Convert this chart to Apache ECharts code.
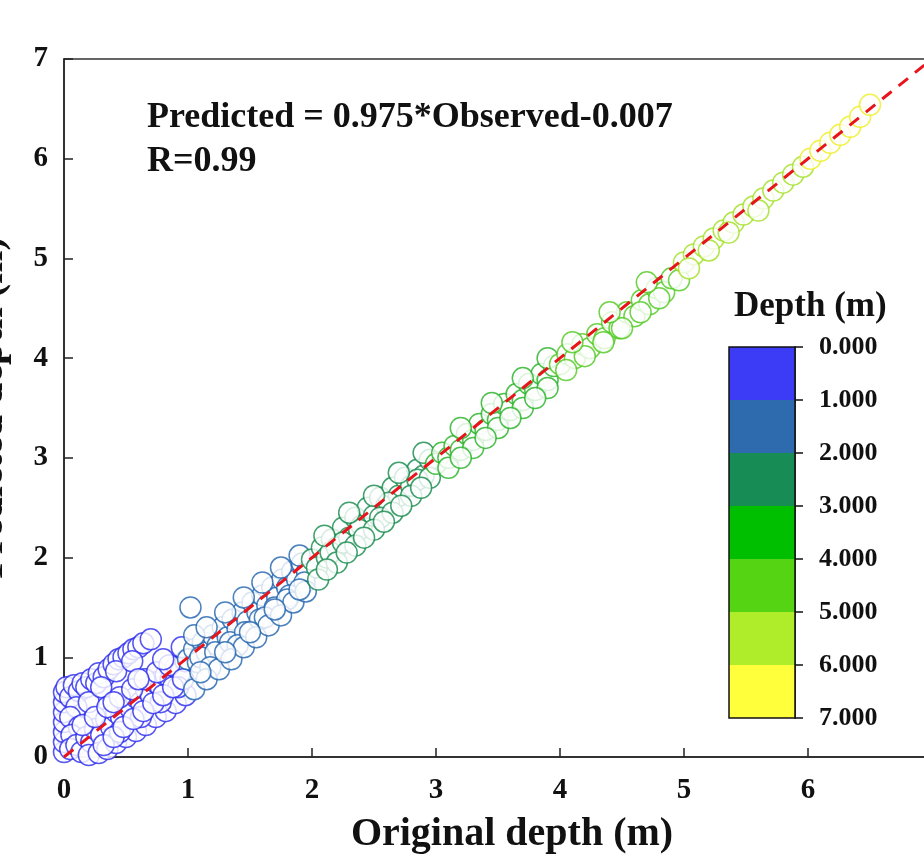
<!DOCTYPE html>
<html>
<head>
<meta charset="utf-8">
<script src="https://cdn.jsdelivr.net/npm/echarts@6/dist/echarts.min.js"></script>
<style>
  html, body { margin: 0; padding: 0; background: #fff; }
  #chart { width: 924px; height: 864px; }
</style>
</head>
<body>
<div id="chart"></div>
<script>
// observed (original) depth vs predicted depth
const points = [
  // 0 - 1 m
  [0.00, 0.05], [0.00, 0.15], [0.00, 0.25], [0.00, 0.35], [0.00, 0.45], [0.00, 0.55], [0.00, 0.65], [0.02, 0.70],
  [0.05, 0.60], [0.08, 0.72], [0.12, 0.66], [0.15, 0.74], [0.18, 0.70], [0.22, 0.78], [0.26, 0.74], [0.28, 0.84],
  [0.32, 0.80], [0.36, 0.88], [0.40, 0.93], [0.44, 0.98], [0.48, 1.00], [0.52, 1.04], [0.56, 1.08], [0.60, 1.10],
  [0.64, 1.14], [0.70, 1.18], [0.10, 0.50], [0.20, 0.55], [0.05, 0.40], [0.12, 0.30], [0.06, 0.22],
  [0.30, 0.70], [0.42, 0.86], [0.55, 0.96],
  [0.05, 0.08], [0.10, 0.12], [0.14, 0.05], [0.18, 0.20], [0.22, 0.15], [0.25, 0.28], [0.30, 0.22], [0.34, 0.38],
  [0.38, 0.30], [0.42, 0.45], [0.46, 0.40], [0.50, 0.55], [0.54, 0.48], [0.58, 0.60], [0.62, 0.55], [0.66, 0.68],
  [0.70, 0.62], [0.74, 0.75], [0.78, 0.70], [0.82, 0.82], [0.86, 0.78], [0.90, 0.90], [0.94, 0.85], [0.98, 0.96],
  [0.15, 0.32], [0.25, 0.40], [0.35, 0.50], [0.45, 0.60], [0.55, 0.68], [0.65, 0.78], [0.75, 0.85], [0.85, 0.92],
  [0.20, 0.02], [0.28, 0.04], [0.35, 0.08], [0.42, 0.14], [0.50, 0.20], [0.58, 0.26], [0.66, 0.32], [0.74, 0.40],
  [0.82, 0.46], [0.90, 0.54], [0.98, 0.62], [0.45, 0.25], [0.62, 0.40], [0.78, 0.55], [0.92, 0.70],
  [0.32, 0.12], [0.40, 0.20], [0.48, 0.30], [0.56, 0.38], [0.64, 0.46], [0.72, 0.54], [0.80, 0.62], [0.88, 0.70],
  [0.96, 0.78],
  [0.40, 0.55], [0.60, 0.78], [0.80, 0.98], [0.95, 1.10],
  // 1 - 2 m
  [1.02, 1.50],
  [1.00, 0.98], [1.05, 1.08], [1.08, 0.95], [1.12, 1.15], [1.15, 1.05], [1.20, 1.22], [1.24, 1.12], [1.28, 1.30],
  [1.32, 1.20], [1.36, 1.38], [1.40, 1.28], [1.44, 1.45], [1.48, 1.36], [1.52, 1.55], [1.56, 1.45], [1.60, 1.62],
  [1.64, 1.52], [1.68, 1.70], [1.72, 1.60], [1.76, 1.78], [1.80, 1.70], [1.84, 1.86], [1.88, 1.78], [1.92, 1.94],
  [1.96, 1.86],
  [1.10, 1.00], [1.22, 1.05], [1.34, 1.15], [1.46, 1.25], [1.58, 1.38], [1.70, 1.50], [1.82, 1.62], [1.94, 1.75],
  [1.18, 0.90], [1.40, 1.12], [1.62, 1.40], [1.80, 1.58],
  [1.05, 0.68], [1.15, 0.78], [1.25, 0.88], [1.35, 0.98], [1.45, 1.10], [1.55, 1.20], [1.65, 1.32], [1.75, 1.42],
  [1.85, 1.55], [1.95, 1.66], [1.10, 0.85], [1.30, 1.05], [1.50, 1.25], [1.70, 1.48], [1.90, 1.68],
  [1.05, 1.22], [1.15, 1.30], [1.30, 1.45], [1.45, 1.60], [1.60, 1.75], [1.75, 1.90], [1.90, 2.02],
  // 2 - 3 m
  [2.00, 1.98], [2.04, 1.90], [2.08, 2.10], [2.12, 2.00], [2.16, 2.18], [2.20, 2.10], [2.25, 2.30], [2.30, 2.20],
  [2.35, 2.40], [2.40, 2.32], [2.45, 2.50], [2.50, 2.42], [2.55, 2.60], [2.60, 2.52], [2.65, 2.70], [2.70, 2.62],
  [2.75, 2.80], [2.80, 2.72], [2.85, 2.88], [2.90, 2.82], [2.95, 2.98],
  [2.15, 2.05], [2.38, 2.28], [2.62, 2.55], [2.85, 2.78], [2.25, 2.15], [2.55, 2.40],
  [2.05, 1.78], [2.20, 1.95], [2.35, 2.12], [2.50, 2.28], [2.65, 2.45], [2.80, 2.62], [2.95, 2.80],
  [2.12, 1.88], [2.28, 2.05], [2.42, 2.20], [2.58, 2.36], [2.72, 2.52], [2.88, 2.70],
  [2.10, 2.22], [2.30, 2.45], [2.50, 2.62], [2.70, 2.85], [2.90, 3.05],
  // 3 - 4 m
  [3.00, 2.94], [3.05, 3.05], [3.10, 3.00], [3.15, 3.12], [3.20, 3.08], [3.25, 3.24], [3.30, 3.18], [3.35, 3.34],
  [3.40, 3.28], [3.45, 3.44], [3.50, 3.38], [3.55, 3.54], [3.60, 3.48], [3.65, 3.64], [3.70, 3.58], [3.75, 3.74],
  [3.80, 3.68], [3.85, 3.84], [3.90, 3.78], [3.95, 3.92],
  [3.10, 2.90], [3.30, 3.10], [3.50, 3.30], [3.70, 3.50], [3.90, 3.70],
  [3.20, 3.00], [3.40, 3.20], [3.60, 3.40], [3.80, 3.60],
  [3.20, 3.30], [3.45, 3.55], [3.70, 3.80], [3.90, 4.00],
  // 4 - 5 m
  [4.00, 3.94], [4.06, 4.04], [4.12, 4.00], [4.18, 4.14], [4.24, 4.10], [4.30, 4.24], [4.36, 4.20], [4.42, 4.36],
  [4.48, 4.30], [4.54, 4.46], [4.60, 4.42], [4.66, 4.58], [4.72, 4.54], [4.78, 4.70], [4.84, 4.66], [4.90, 4.80],
  [4.96, 4.78],
  [4.20, 4.02], [4.50, 4.30], [4.80, 4.60], [4.05, 3.88], [4.35, 4.16], [4.65, 4.46],
  [4.10, 4.16], [4.40, 4.46], [4.70, 4.76],
  // 5 - 6 m
  [5.00, 4.96], [5.08, 5.04], [5.16, 5.12], [5.24, 5.20], [5.32, 5.28], [5.40, 5.36], [5.48, 5.44], [5.56, 5.52],
  [5.64, 5.60], [5.72, 5.68], [5.80, 5.76], [5.88, 5.84], [5.96, 5.92],
  [5.20, 5.08], [5.60, 5.48], [5.04, 4.90], [5.36, 5.26],
  // 6 - 7 m
  [6.02, 6.00], [6.10, 6.08], [6.18, 6.16], [6.26, 6.24], [6.34, 6.32], [6.42, 6.42], [6.50, 6.54]
]

const fitLine = [[0, 0], [7, 7]]
const axisTicks = [0, 1, 2, 3, 4, 5, 6, 7]

// colour bar classes (depth, m)
const depthBreaks = [0, 1, 2, 3, 4, 5, 6, 7]
const depthColors = ['#3c3cf6', '#2d6aae', '#178c55', '#00bf00', '#55d414', '#afec2a', '#ffff3c']
const pointColors = ['#2a2aee', '#1e62ac', '#128848', '#22b022', '#4cc81c', '#a0e020', '#eeee20']

const serif = '"Liberation Serif", "Times New Roman", serif'

const chart = echarts.init(document.getElementById('chart'))

// one scatter series per depth class so each gets its own outline colour
const groups = depthColors.map(() => [])
points.forEach(p => {
    let k = depthBreaks.findIndex((b, i) => i < depthBreaks.length - 1 && p[0] >= b && p[0] < depthBreaks[i + 1])
    if (k < 0) k = groups.length - 1
    groups[k].push(p)
})

const scatterSeries = groups.map((g, i) => ({
    type: 'scatter',
    symbol: 'circle',
    symbolSize: 21,
    silent: true,
    itemStyle: { color: '#fff', borderColor: pointColors[i], borderWidth: 1.5 },
    data: g,
    z: 2,
}))

const barSeries = depthColors.map((c, i) => ({
    type: 'bar',
    xAxisIndex: 1,
    yAxisIndex: 1,
    stack: 'cb',
    barWidth: '100%',
    silent: true,
    itemStyle: { color: c },
    data: [depthBreaks[i + 1] - depthBreaks[i]],
}))

chart.setOption({
    animation: false,
    backgroundColor: '#fff',
    textStyle: { fontFamily: serif },
    grid: [
        {
            left: 64,
            top: 59,
            right: -8,
            bottom: 107,
            containLabel: false,
            outerBoundsMode: 'none',
            show: true,
            borderColor: '#333',
            borderWidth: 1.5,
        },
        {
            left: 729,
            top: 347,
            width: 66,
            height: 371,
            containLabel: false,
            outerBoundsMode: 'none',
            show: true,
            borderColor: '#111',
            borderWidth: 1.5,
            z: 10,
        },
    ],
    xAxis: [
        {
            type: 'value',
            min: axisTicks[0],
            max: axisTicks[axisTicks.length - 1],
            interval: 1,
            splitLine: { show: false },
            axisLine: { lineStyle: { color: '#222', width: 1.5 } },
            axisTick: { inside: true, length: 9, lineStyle: { color: '#222', width: 1.5 } },
            axisLabel: { fontSize: 29, fontWeight: 'bold', color: '#111', margin: 19, fontFamily: serif },
            name: 'Original depth (m)',
            nameLocation: 'middle',
            nameGap: 58,
            nameTextStyle: { fontSize: 40, fontWeight: 'bold', color: '#111', fontFamily: serif, padding: [0, 0, 0, 28] },
        },
        {
            type: 'category',
            gridIndex: 1,
            data: ['c'],
            show: false,
        },
    ],
    yAxis: [
        {
            type: 'value',
            min: axisTicks[0],
            max: axisTicks[axisTicks.length - 1],
            interval: 1,
            splitLine: { show: false },
            axisLine: { lineStyle: { color: '#222', width: 1.5 } },
            axisTick: { inside: true, length: 9, lineStyle: { color: '#222', width: 1.5 } },
            axisLabel: { fontSize: 29, fontWeight: 'bold', color: '#111', margin: 16, fontFamily: serif },
            name: 'Predicted depth (m)',
            nameLocation: 'middle',
            nameGap: 52,
            nameTextStyle: { fontSize: 40, fontWeight: 'bold', color: '#111', fontFamily: serif },
        },
        {
            type: 'value',
            gridIndex: 1,
            position: 'right',
            inverse: true,
            min: depthBreaks[0],
            max: depthBreaks[depthBreaks.length - 1],
            interval: 1,
            splitLine: { show: false },
            axisLine: { show: true, lineStyle: { color: '#111', width: 1.5 } },
            axisTick: { show: true, length: 8, lineStyle: { color: '#111', width: 1.5 } },
            axisLabel: {
                fontSize: 26,
                fontWeight: 'bold',
                color: '#111',
                margin: 24,
                fontFamily: serif,
                formatter: v => v.toFixed(3),
            },
        },
    ],
    graphic: [
        {
            type: 'text',
            left: 147,
            top: 96,
            style: {
                text: 'Predicted = 0.975*Observed-0.007\nR=0.99',
                font: 'bold 36px ' + serif,
                fill: '#111',
                lineHeight: 44,
            },
        },
        {
            type: 'text',
            left: 734,
            top: 289,
            style: {
                text: 'Depth (m)',
                font: 'bold 35px ' + serif,
                fill: '#111',
            },
        },
    ],
    series: scatterSeries.concat([
        {
            type: 'line',
            data: fitLine,
            symbol: 'none',
            silent: true,
            lineStyle: { color: '#e8141b', width: 3, type: [12, 9] },
            z: 5,
        },
    ]).concat(barSeries),
})
</script>
</body>
</html>
